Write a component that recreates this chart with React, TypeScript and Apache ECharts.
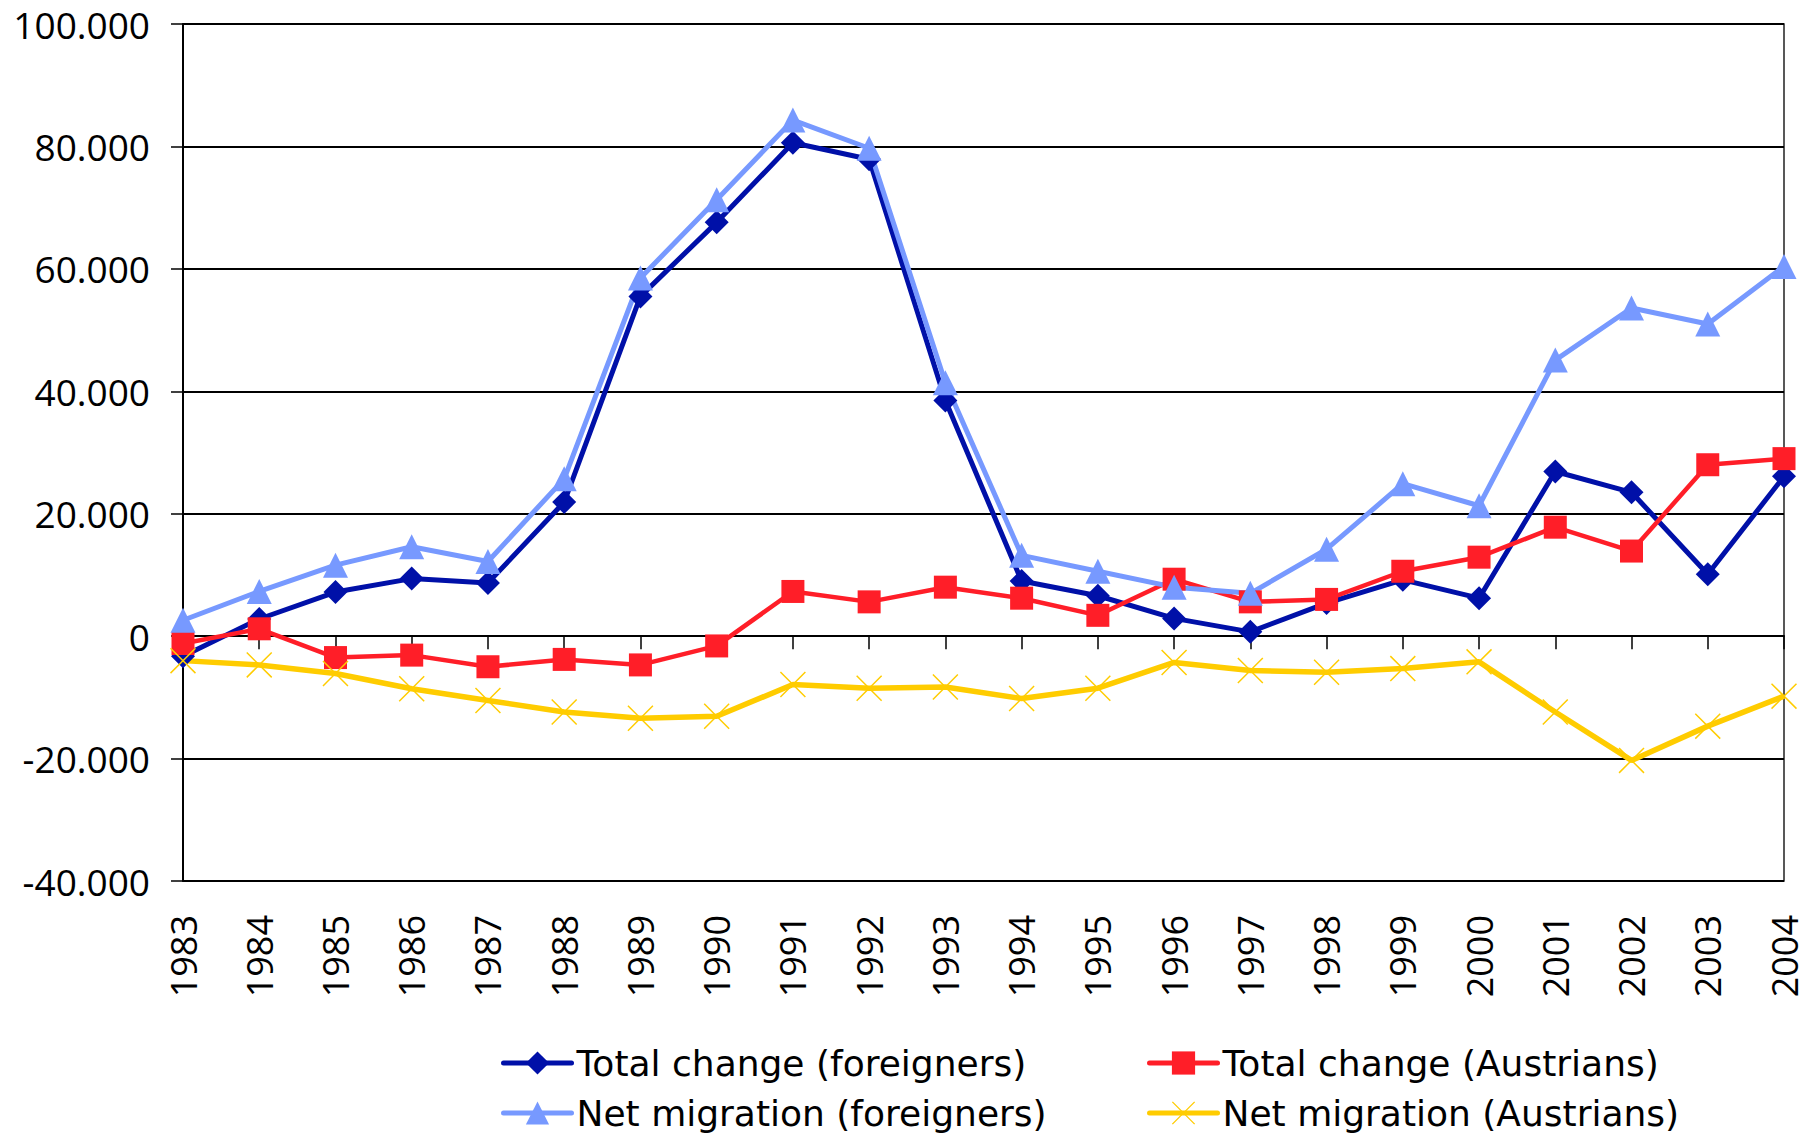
import React, { useEffect, useRef } from "react";
import * as echarts from "echarts";

const years = ["1983","1984","1985","1986","1987","1988","1989","1990","1991","1992","1993","1994","1995","1996","1997","1998","1999","2000","2001","2002","2003","2004"];
const totalForeigners = [-3300, 2800, 7200, 9400, 8700, 21900, 55500, 67600, 80600, 77900, 38500, 9000, 6600, 2900, 700, 5400, 9200, 6200, 26900, 23500, 10100, 26100];
const totalAustrians = [-1200, 1200, -3500, -3100, -5000, -3800, -4700, -1600, 7300, 5600, 8000, 6200, 3400, 9300, 5600, 6000, 10600, 12900, 17800, 13900, 28000, 29000];
const netForeigners = [2600, 7300, 11600, 14600, 12200, 25700, 58500, 71300, 84300, 79700, 41400, 13200, 10600, 8000, 7000, 14200, 24900, 21300, 45100, 53600, 51000, 60400];
const netAustrians = [-4000, -4700, -6100, -8600, -10500, -12400, -13400, -13100, -7900, -8500, -8300, -10200, -8500, -4300, -5600, -5900, -5300, -4200, -12400, -20300, -14700, -9800];

const seriesNames = [
  "Total change (foreigners)",
  "Total change (Austrians)",
  "Net migration (foreigners)",
  "Net migration (Austrians)",
];

const X_SYMBOL =
  "path://M0,4L4,0L100,96L96,100Z M4,100L0,96L96,0L100,4Z";

function fmt(v: number): string {
  if (v === 0) return "0";
  const s = Math.abs(v).toString().replace(/\B(?=(\d{3})+(?!\d))/g, ".");
  return (v < 0 ? "-" : "") + s;
}

export default function App() {
  const ref = useRef<HTMLDivElement>(null);
  useEffect(() => {
    if (!ref.current) return;
    const chart = echarts.init(ref.current, null, { renderer: "svg" });
    const axisFont = "'Open Sans', sans-serif";
    const legendFont = "'DejaVu Sans', sans-serif";
    const legendBase = {
      orient: "horizontal",
      padding: 0,
      itemWidth: 68,
      itemHeight: 29,
      selectedMode: false,
      lineStyle: { width: 5, cap: "round" },
      textStyle: { fontFamily: legendFont, fontSize: 36, color: "#000", lineHeight: 29 },
    };
    chart.setOption({
      animation: false,
      backgroundColor: "#fff",
      grid: {
        left: 183,
        right: 23,
        top: 24,
        bottom: 256,
        show: true,
        borderColor: "#222",
        borderWidth: 1.5,
        backgroundColor: "transparent",
      },
      legend: [
        { ...legendBase, data: [seriesNames[0]], left: 501, top: 1045 },
        { ...legendBase, data: [seriesNames[1]], left: 1147, top: 1045 },
        { ...legendBase, data: [seriesNames[2]], left: 501, top: 1095 },
        { ...legendBase, data: [seriesNames[3]], left: 1147, top: 1095 },
      ],
      xAxis: [
        {
          type: "category",
          data: years,
          boundaryGap: false,
          position: "top",
          axisLine: { show: true, onZero: true, lineStyle: { color: "#000", width: 2 } },
          axisTick: { show: true, inside: true, length: 13, interval: 0, lineStyle: { color: "#000", width: 1.5 } },
          axisLabel: { show: false },
          splitLine: { show: false },
        },
        {
          type: "category",
          data: years,
          boundaryGap: false,
          position: "bottom",
          axisLine: { show: false, onZero: false },
          axisTick: { show: false },
          axisLabel: {
            show: true,
            interval: 0,
            rotate: 90,
            margin: 34,
            fontSize: 36,
            fontFamily: axisFont,
            color: "#000",
          },
          splitLine: { show: false },
        },
      ],
      yAxis: {
        type: "value",
        min: -40000,
        max: 100000,
        interval: 20000,
        axisLine: { show: true, lineStyle: { color: "#000", width: 2 } },
        axisTick: { show: true, length: 12, lineStyle: { color: "#000", width: 1.5 } },
        axisLabel: {
          margin: 33,
          fontSize: 37,
          fontFamily: axisFont,
          color: "#000",
          formatter: (v: number) => fmt(v),
        },
        splitLine: { show: true, lineStyle: { color: "#000", width: 2 } },
      },
      series: [
        {
          name: seriesNames[0],
          type: "line",
          data: totalForeigners,
          symbol: "diamond",
          symbolSize: 24,
          clip: false,
          lineStyle: { color: "#0010A8", width: 5 },
          itemStyle: { color: "#0010A8" },
        },
        {
          name: seriesNames[1],
          type: "line",
          data: totalAustrians,
          symbol: "rect",
          symbolSize: 23,
          clip: false,
          lineStyle: { color: "#FF1E28", width: 4.5 },
          itemStyle: { color: "#FF1E28" },
        },
        {
          name: seriesNames[2],
          type: "line",
          data: netForeigners,
          symbol: "triangle",
          symbolSize: 25,
          clip: false,
          lineStyle: { color: "#7799FF", width: 5 },
          itemStyle: { color: "#7799FF" },
        },
        {
          name: seriesNames[3],
          type: "line",
          data: netAustrians,
          symbol: X_SYMBOL,
          symbolSize: 26,
          clip: false,
          lineStyle: { color: "#FFCC00", width: 5.5 },
          itemStyle: { color: "#FFCC00" },
        },
      ],
    });
    return () => chart.dispose();
  }, []);
  return (
    <div
      ref={ref}
      style={{ position: "fixed", left: 0, top: 0, width: 1807, height: 1137 }}
    />
  );
}
